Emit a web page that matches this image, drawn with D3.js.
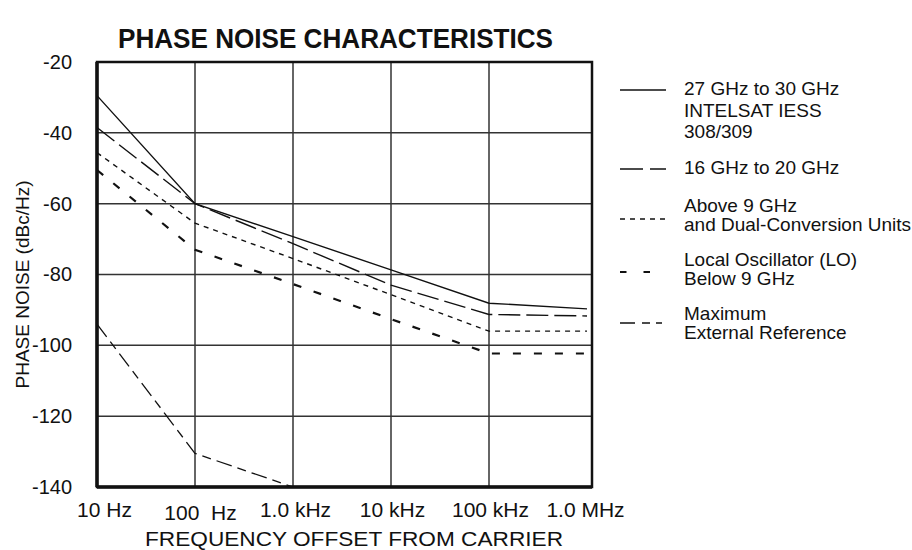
<!DOCTYPE html>
<html>
<head>
<meta charset="utf-8">
<script src="https://cdn.jsdelivr.net/npm/d3@7"></script>
<style>
  body { margin: 0; background: #fff; }
  text { font-family: "Liberation Sans", Arial, sans-serif; fill: #111; }
</style>
</head>
<body>
<div id="chart-area"></div>
<script>
// SVG Size
var width = 912,
    height = 550;

// Data
var freqs = [10, 100, 1000, 10000, 100000, 1000000];
var ka27 = [-29.5, -60, -69.3, -78.7, -88.1, -89.7];
var ku16 = [-38.5, -60, -71.3, -83, -91.3, -91.7];
var above9 = [-45.6, -65.5, -75.5, -85.7, -96, -96];
var loBelow9 = [-50.5, -73, -82.7, -92.6, -102.3, -102.3];
var extFreqs = [10, 100, 1000];
var extRef = [-94, -130.5, -140];

var yTicks = [-20, -40, -60, -80, -100, -120, -140];
var xTickLabels = ["10 Hz", "100  Hz", "1.0 kHz", "10 kHz", "100 kHz", "1.0 MHz"];
var legendLabels = [
    ["27 GHz to 30 GHz", "INTELSAT IESS", "308/309"],
    ["16 GHz to 20 GHz"],
    ["Above 9 GHz", "and Dual-Conversion Units"],
    ["Local Oscillator (LO)", "Below 9 GHz"],
    ["Maximum", "External Reference"]
];

var svg = d3.select("#chart-area")
    .append("svg")
    .attr("width", width)
    .attr("height", height);

// Scales
var x = d3.scaleLog()
    .domain([10, 1000000])
    .range([97, 587]);

var y = d3.scaleLinear()
    .domain([-140, -20])
    .range([487, 62]);

var plotL = x(10), plotR = x(1000000) + 5, plotT = y(-20), plotB = y(-140);

// Grid
svg.append("g")
    .selectAll("line")
    .data(freqs.slice(1, 5))
    .enter()
    .append("line")
    .attr("x1", d => x(d)).attr("x2", d => x(d))
    .attr("y1", plotT).attr("y2", plotB)
    .attr("stroke", "#333").attr("stroke-width", 1.5);

svg.append("g")
    .selectAll("line")
    .data(yTicks.slice(1, 6))
    .enter()
    .append("line")
    .attr("x1", plotL).attr("x2", plotR)
    .attr("y1", d => y(d)).attr("y2", d => y(d))
    .attr("stroke", "#333").attr("stroke-width", 1.5);

// Series
var line = d3.line()
    .x(d => x(d[0]))
    .y(d => y(d[1]));

var series = [
    { f: freqs, v: ka27, dash: null, w: 1.4 },
    { f: freqs, v: ku16, dash: "22,6", w: 1.4 },
    { f: freqs, v: above9, dash: "5,5", w: 1.4 },
    { f: freqs, v: loBelow9, dash: "8,13", w: 2.2 },
    { f: extFreqs, v: extRef, dash: "16,6,9,6", w: 1.3 }
];

series.forEach(function(s) {
    svg.append("path")
        .datum(s.f.map((f, i) => [f, s.v[i]]))
        .attr("d", line)
        .attr("fill", "none")
        .attr("stroke", "#111")
        .attr("stroke-width", s.w)
        .attr("stroke-dasharray", s.dash);
});

// Frame
svg.append("rect")
    .attr("x", plotL).attr("y", plotT)
    .attr("width", plotR - plotL).attr("height", plotB - plotT)
    .attr("fill", "none").attr("stroke", "#111").attr("stroke-width", 2.5);
svg.append("line")
    .attr("x1", plotL).attr("x2", plotL).attr("y1", plotT).attr("y2", plotB)
    .attr("stroke", "#111").attr("stroke-width", 3.5);
svg.append("line")
    .attr("x1", plotL).attr("x2", plotR).attr("y1", plotB).attr("y2", plotB)
    .attr("stroke", "#111").attr("stroke-width", 3.5);

// Axes labels
var yAxis = d3.axisLeft(y)
    .tickValues(yTicks)
    .tickFormat(d => String(d))
    .tickSize(0)
    .tickPadding(25);

svg.append("g")
    .attr("class", "axis y-axis")
    .attr("transform", "translate(" + plotL + ",0)")
    .call(yAxis)
    .call(g => g.select(".domain").remove())
    .selectAll("text")
    .attr("font-size", 20)
    .style("font-family", "Liberation Sans, Arial, sans-serif");

var xAxis = d3.axisBottom(x)
    .tickValues(freqs)
    .tickFormat((d, i) => xTickLabels[i])
    .tickSize(0)
    .tickPadding(14);

var xLabelShift = [7, 5, 2, 1, 1, -2];

svg.append("g")
    .attr("class", "axis x-axis")
    .attr("transform", "translate(0," + plotB + ")")
    .call(xAxis)
    .call(g => g.select(".domain").remove())
    .selectAll("text")
    .attr("font-size", 21)
    .style("font-family", "Liberation Sans, Arial, sans-serif")
    .style("white-space", "pre")
    .attr("dx", (d, i) => xLabelShift[i])
    .attr("dy", (d, i) => i === 1 ? "0.9em" : "0.75em");

svg.append("text")
    .attr("text-anchor", "middle")
    .attr("font-size", 19)
    .attr("transform", "translate(29," + ((plotT + plotB) / 2 + 10) + ")rotate(-90)")
    .text("PHASE NOISE (dBc/Hz)");

svg.append("text")
    .attr("text-anchor", "middle")
    .attr("font-size", 21)
    .attr("x", 354)
    .attr("y", 546)
    .attr("textLength", 418)
    .attr("lengthAdjust", "spacingAndGlyphs")
    .text("FREQUENCY OFFSET FROM CARRIER");

// Title
svg.append("text")
    .attr("x", 118)
    .attr("y", 48)
    .attr("font-size", 27)
    .attr("font-weight", "bold")
    .attr("textLength", 435)
    .attr("lengthAdjust", "spacingAndGlyphs")
    .text("PHASE NOISE CHARACTERISTICS");

// Legend
var legendY = [95, 174, 212, 266, 320];
var sampleY = [90, 169, 219, 272, 323];
var legendDash = [null, "23,7", "5,5", "6.5,17", "15,7,8,6,6"];
var legendW = [1.4, 1.4, 1.4, 1.8, 1.3];

legendLabels.forEach(function(lines, i) {
    svg.append("line")
        .attr("x1", 620).attr("x2", 666)
        .attr("y1", sampleY[i]).attr("y2", sampleY[i])
        .attr("stroke", "#111")
        .attr("stroke-width", legendW[i])
        .attr("stroke-dasharray", legendDash[i]);
    var t = svg.append("text")
        .attr("x", 684)
        .attr("y", legendY[i])
        .attr("font-size", 19);
    lines.forEach(function(l, j) {
        t.append("tspan")
            .attr("x", 684)
            .attr("dy", j === 0 ? 0 : (i === 0 ? 21.5 : 19))
            .text(l);
    });
});
</script>
</body>
</html>
